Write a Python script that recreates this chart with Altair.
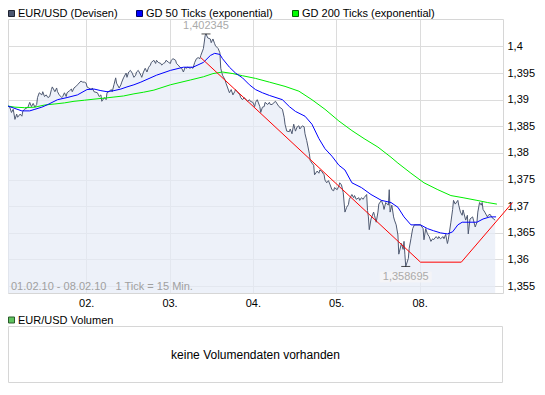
import altair as alt
import pandas as pd

# ---------------- data ----------------
# x = tick index (1 tick = 15 min, weekend gap compressed)
day_ticks = [90, 186, 282, 378, 474]
day_labels = ["02.", "03.", "04.", "05.", "08."]
price_ticks = [1.355, 1.36, 1.365, 1.37, 1.375, 1.38, 1.385, 1.39, 1.395, 1.4]

price_t_a = [0, 2, 4, 6, 8, 10, 11, 14, 16, 17,
             19, 23, 25, 27, 29, 31, 33, 34, 36, 39,
             40, 42, 44, 46, 48, 50, 51, 54, 56, 57,
             59, 62, 63, 65, 67, 68, 71, 73, 74, 76,
             79, 80, 84, 86, 88, 90, 91, 93, 96, 97,
             99, 103, 105, 107, 108, 111, 113, 114, 116, 119,
             120, 122, 124, 125, 128, 130, 131, 133, 136, 137,
             139, 141, 143, 145, 147, 148, 150, 153, 154]
price_v_a = [1.3888, 1.3886, 1.3876, 1.3882, 1.3863, 1.3873, 1.3867, 1.3873, 1.3869, 1.3878,
             1.3882, 1.3886, 1.3895, 1.3887, 1.3893, 1.3886, 1.3891, 1.3904, 1.3913, 1.3909,
             1.3915, 1.3906, 1.3909, 1.3904, 1.3906, 1.3919, 1.3924, 1.3915, 1.3922, 1.3915,
             1.3909, 1.3904, 1.3906, 1.3913, 1.3906, 1.3913, 1.3917, 1.3920, 1.3915, 1.3922,
             1.3926, 1.3928, 1.3935, 1.3933, 1.3933, 1.3931, 1.3924, 1.3922, 1.3919, 1.3922,
             1.3915, 1.3913, 1.3906, 1.3909, 1.3897, 1.3904, 1.3900, 1.3913, 1.3915, 1.3919,
             1.3915, 1.3928, 1.3941, 1.3931, 1.3922, 1.3928, 1.3933, 1.3941, 1.3950, 1.3942,
             1.3952, 1.3955, 1.3950, 1.3942, 1.3946, 1.3952, 1.3955, 1.3946, 1.3942]

price_t_b = [156, 158, 160, 162, 164, 165, 168, 170, 171, 173,
             176, 177, 179, 181, 182, 185, 187, 188, 190, 193,
             194, 196, 198, 200, 202, 204, 205, 207, 210, 211,
             213, 215, 217, 219, 221, 222, 225, 227, 228, 230,
             233, 234, 236, 238, 239, 242, 244, 245, 247, 250,
             251, 253, 255, 257, 259, 261, 262, 264, 267, 268,
             270, 272, 274, 276, 278, 279, 282, 284, 285, 287,
             290, 291, 293, 295, 296, 299, 301, 302]
price_v_b = [1.3952, 1.3959, 1.3952, 1.3961, 1.3965, 1.3970, 1.3974, 1.3968, 1.3974, 1.3970,
             1.3968, 1.3965, 1.3968, 1.3970, 1.3974, 1.3970, 1.3968, 1.3974, 1.3977, 1.3974,
             1.3968, 1.3965, 1.3961, 1.3959, 1.3952, 1.3961, 1.3959, 1.3961, 1.3959, 1.3961,
             1.3959, 1.3970, 1.3977, 1.3979, 1.3977, 1.3983, 1.3996, 1.4020, 1.402345, 1.4016,
             1.4014, 1.4007, 1.4014, 1.4005, 1.4001, 1.3996, 1.3988, 1.3959, 1.3946, 1.3937,
             1.3931, 1.3922, 1.3913, 1.3919, 1.3909, 1.3915, 1.3919, 1.3915, 1.3909, 1.3904,
             1.3900, 1.3904, 1.3900, 1.3897, 1.3900, 1.3897, 1.3895, 1.3887, 1.3895, 1.3900,
             1.3887, 1.3876, 1.3886, 1.3887, 1.3895, 1.3891, 1.3895, 1.3891]

price_t_c = [304, 308, 312, 316, 318, 319, 321, 324, 325, 327,
             329, 331, 333, 335, 336, 339, 341, 342, 344, 347,
             348, 350, 352, 353, 356, 358, 359, 361, 364, 365,
             367, 369, 371, 373, 375, 376, 379, 381, 382, 384,
             386, 388, 390, 392, 393, 396, 398, 399, 401, 404,
             405, 407, 409, 410, 413, 414, 415, 416, 418, 421,
             422, 424, 426, 427, 430, 432, 433, 435, 438, 439,
             440, 442, 444, 445, 447, 449, 450, 453, 455, 456,
             457, 458, 461, 462, 464, 466, 468, 472]
price_v_c = [1.3891, 1.3897, 1.3887, 1.3882, 1.3867, 1.3854, 1.3841, 1.3840, 1.3845, 1.3836,
             1.3854, 1.3841, 1.3849, 1.3851, 1.3845, 1.3851, 1.3849, 1.3836, 1.3823, 1.3799,
             1.3786, 1.3781, 1.3777, 1.3759, 1.3766, 1.3762, 1.3768, 1.3766, 1.3759, 1.3749,
             1.3744, 1.3748, 1.3740, 1.3731, 1.3729, 1.3735, 1.3731, 1.3738, 1.3744, 1.3740,
             1.3726, 1.3689, 1.3698, 1.3703, 1.3713, 1.3722, 1.3716, 1.3720, 1.3713, 1.3716,
             1.3711, 1.3716, 1.3713, 1.3716, 1.3722, 1.3692, 1.3680, 1.3656, 1.3676, 1.3689,
             1.3683, 1.3670, 1.3689, 1.3704, 1.3711, 1.3702, 1.3694, 1.3707, 1.3702, 1.3731,
             1.3689, 1.3702, 1.3680, 1.3674, 1.3665, 1.3646, 1.3610, 1.3630, 1.3619, 1.3634,
             1.3610, 1.358695, 1.3602, 1.3621, 1.3639, 1.3658, 1.3665, 1.3665]

price_t_d = [475, 478, 479, 481, 483, 485, 487, 489, 490, 493,
             495, 496, 498, 501, 502, 504, 506, 507, 510, 512,
             513, 515, 518, 519, 521, 523, 524, 527, 529, 530,
             532, 535, 536, 538, 540, 541, 543, 545, 546, 547,
             549, 552, 553, 555, 557, 559, 561]
price_v_d = [1.3665, 1.3658, 1.3637, 1.3658, 1.3648, 1.3643, 1.3634, 1.3639, 1.3637, 1.3643,
             1.3639, 1.3643, 1.3639, 1.3643, 1.3639, 1.3647, 1.3630, 1.3637, 1.3670, 1.3694,
             1.3711, 1.3704, 1.3711, 1.3702, 1.3689, 1.3683, 1.3693, 1.3674, 1.3683, 1.3648,
             1.3676, 1.3680, 1.3674, 1.3661, 1.3670, 1.3689, 1.3707, 1.3702, 1.3707, 1.3694,
             1.3689, 1.3680, 1.3683, 1.3685, 1.3680, 1.3676, 1.3674]

gd50_t = [0, 16, 25, 31, 39, 46, 57, 68, 80, 91,
          99, 107, 114, 122, 130, 137, 145, 153, 171, 187,
          202, 213, 225, 233, 238, 244, 247, 255, 262, 270,
          278, 285, 293, 301, 316, 324, 331, 342, 350, 358,
          365, 373, 381, 388, 396, 407, 418, 430, 441, 449,
          456, 464, 475, 483, 490, 498, 506, 512, 518, 523,
          532, 540, 547, 555, 562]
gd50_v = [1.3888, 1.3879, 1.3879, 1.3882, 1.3886, 1.3891, 1.3900, 1.3904, 1.3909, 1.3919,
          1.3920, 1.3917, 1.3915, 1.3917, 1.3920, 1.3924, 1.3928, 1.3933, 1.3946, 1.3955,
          1.3961, 1.3961, 1.3970, 1.3983, 1.3987, 1.3985, 1.3977, 1.3961, 1.3950, 1.3941,
          1.3928, 1.3919, 1.3913, 1.3908, 1.3900, 1.3887, 1.3878, 1.3869, 1.3854, 1.3827,
          1.3808, 1.3794, 1.3777, 1.3768, 1.3744, 1.3735, 1.3722, 1.3711, 1.3707, 1.3698,
          1.3680, 1.3665, 1.3665, 1.3658, 1.3654, 1.3650, 1.3648, 1.3652, 1.3665, 1.3670,
          1.3670, 1.3670, 1.3676, 1.3680, 1.3680]

gd200_t = [0, 8, 19, 31, 42, 54, 65, 76, 88, 99,
           111, 122, 133, 145, 156, 168, 187, 210, 225, 236,
           247, 259, 270, 285, 301, 319, 335, 350, 365, 381,
           396, 410, 426, 441, 449, 464, 479, 495, 510, 524,
           540, 552, 563]
gd200_v = [1.3888, 1.3886, 1.3885, 1.3886, 1.3890, 1.3892, 1.3894, 1.3897, 1.3899, 1.3901,
           1.3903, 1.3905, 1.3907, 1.3911, 1.3914, 1.3918, 1.3928, 1.3937, 1.3943, 1.3949,
           1.3952, 1.3949, 1.3945, 1.3940, 1.3933, 1.3925, 1.3916, 1.3900, 1.3882, 1.3860,
           1.3842, 1.3827, 1.3811, 1.3792, 1.3781, 1.3762, 1.3744, 1.3731, 1.3720, 1.3716,
           1.3711, 1.3707, 1.3704]

trend_t = [222, 475, 522, 581]
trend_v = [1.3979, 1.3595, 1.3595, 1.3707]

extreme_t = [228, 458]
extreme_v = [1.402345, 1.358695]

legend_names = ["EUR/USD (Devisen)", "GD 50 Ticks (exponential)", "GD 200 Ticks (exponential)"]
legend_colors = ["#4b5670", "#0000ff", "#00ff00"]
legend_strokes = ["#1e2230", "#000066", "#006600"]
NB = "\u00a0"
footer_text = "01.02.10 - 08.02.10" + NB * 3 + "1 Tick = 15 Min."
volume_title = "EUR/USD Volumen"
volume_msg = "keine Volumendaten vorhanden"

# ---------------- layout ----------------
W, H = 495, 274
X_MAX = 570
Y_MIN, Y_MAX = 1.35371, 1.40515
FONT = "Liberation Sans"
GRID = "#dcdcdc"

price = pd.DataFrame({
    "t": price_t_a + price_t_b + price_t_c + price_t_d,
    "v": price_v_a + price_v_b + price_v_c + price_v_d,
})
gd50 = pd.DataFrame({"t": gd50_t, "v": gd50_v})
gd200 = pd.DataFrame({"t": gd200_t, "v": gd200_v})
trend = pd.DataFrame({"t": trend_t, "v": trend_v})
ext = pd.DataFrame({"t": extreme_t, "v": extreme_v})
ext["lab"] = [f"{v:.6f}".replace(".", ",") for v in extreme_v]
hi = ext.iloc[[0]]
lo = ext.iloc[[1]]

label_expr = " : ".join(
    f"datum.value == {t} ? '{l}'" for t, l in zip(day_ticks, day_labels)
) + " : ''"

xscale = alt.Scale(domain=[0, X_MAX], nice=False, zero=False)
yscale = alt.Scale(domain=[Y_MIN, Y_MAX], nice=False, zero=False)
xaxis = alt.Axis(values=day_ticks, labelExpr=label_expr, title=None, grid=True,
                 gridColor=GRID, ticks=False, domain=False, labelFont=FONT,
                 labelFontSize=11, labelColor="#000000", labelPadding=4,
                 labelFlush=False)
yaxis = alt.Axis(orient="right", values=price_ticks,
                 labelExpr="replace(format(datum.value, '.3~f'), '.', ',')",
                 title=None, grid=True, gridColor=GRID, ticks=False, domain=False,
                 labelFont=FONT, labelFontSize=11, labelColor="#000000",
                 labelPadding=4, labelOverlap=False)
X = alt.X("t:Q", scale=xscale, axis=xaxis)
Y = alt.Y("v:Q", scale=yscale, axis=yaxis)

area = alt.Chart(price).mark_area(color="#e6ebf7", opacity=0.7).encode(
    x=X, y=Y, y2=alt.datum(Y_MIN))
pline = alt.Chart(price).mark_line(color="#4f5a72", strokeWidth=1).encode(x=X, y=Y)
g200 = alt.Chart(gd200).mark_line(color="#00ee00", strokeWidth=1).encode(x=X, y=Y)
g50 = alt.Chart(gd50).mark_line(color="#0000ff", strokeWidth=1).encode(x=X, y=Y)
tline = alt.Chart(trend).mark_line(color="#ff0000", strokeWidth=1).encode(x=X, y=Y)
ticks = alt.Chart(ext).mark_tick(orient="horizontal", size=9, thickness=1,
                                 color="#000000").encode(x=X, y=Y)
hi_lab = alt.Chart(hi).mark_text(dy=-8, color="#aaaaaa", font=FONT, fontSize=11,
                                 baseline="middle").encode(x=X, y=Y, text="lab:N")
lo_bg = alt.Chart(lo).mark_rect(color="#f4f4f6", opacity=0.9, xOffset=-26,
                                x2Offset=26, yOffset=5, y2Offset=16).encode(
    x=X, x2="t:Q", y=Y, y2="v:Q")
lo_lab = alt.Chart(lo).mark_text(dy=10.5, color="#aaaaaa", font=FONT, fontSize=11,
                                 baseline="middle").encode(x=X, y=Y, text="lab:N")


def deco():
    return alt.Chart(alt.Data(values=[{"a": 1}]))


layers = [area, pline, g200, g50, tline, ticks, lo_bg, hi_lab, lo_lab]

# top legend
leg_x = [0, 128, 284]
for lx, name, col, sc in zip(leg_x, legend_names, legend_colors, legend_strokes):
    layers.append(deco().mark_rect(fill=col, stroke=sc, strokeWidth=1).encode(
        x=alt.value(lx + 0.5), x2=alt.value(lx + 6.5),
        y=alt.value(-8.5), y2=alt.value(-2.5)))
    layers.append(deco().mark_text(align="left", baseline="middle", font=FONT,
                                   fontSize=11, color="#000000").encode(
        x=alt.value(lx + 10), y=alt.value(-5), text=alt.value(name)))

# footer inside plot
layers.append(deco().mark_text(align="left", baseline="middle", font=FONT,
                               fontSize=11, color="#a0a0a0").encode(
    x=alt.value(3), y=alt.value(268), text=alt.value(footer_text)))

# volume panel
layers.append(deco().mark_rect(fill="#5fc45f", stroke="#2a5a2a", strokeWidth=1).encode(
    x=alt.value(0.5), x2=alt.value(6.5), y=alt.value(298), y2=alt.value(304)))
layers.append(deco().mark_text(align="left", baseline="middle", font=FONT,
                               fontSize=11, color="#000000").encode(
    x=alt.value(10), y=alt.value(301.5), text=alt.value(volume_title)))
layers.append(deco().mark_rect(fill="#ffffff", stroke="#d6d6d6", strokeWidth=1).encode(
    x=alt.value(0.5), x2=alt.value(W - 0.5), y=alt.value(307.5), y2=alt.value(363.5)))
layers.append(deco().mark_text(align="center", baseline="middle", font=FONT,
                               fontSize=12, color="#000000").encode(
    x=alt.value(W / 2), y=alt.value(336), text=alt.value(volume_msg)))

chart = alt.layer(*layers).properties(
    width=W, height=H,
    autosize=alt.AutoSizeParams(type="none"),
    padding={"left": 0, "top": 11, "right": 34, "bottom": 91},
    background="white",
).configure_view(stroke="#d6d6d6", strokeWidth=1)

chart.save("out.html", embed_options={"renderer": "svg", "actions": False})
